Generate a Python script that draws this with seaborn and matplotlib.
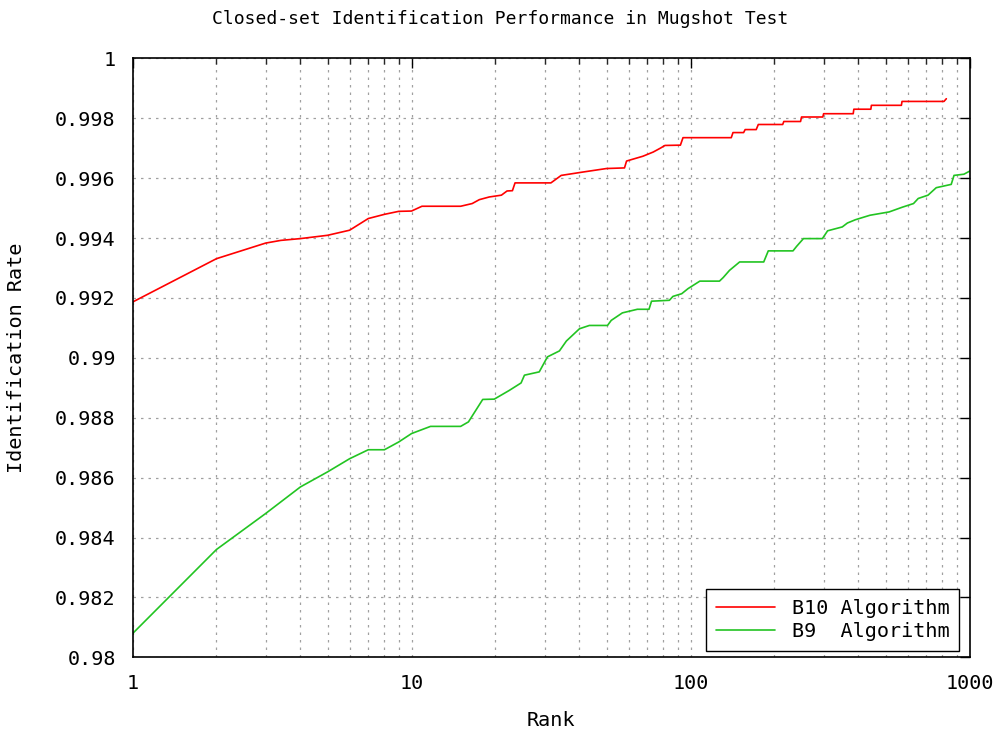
import numpy as np
import pandas as pd
import matplotlib
matplotlib.use("Agg")
import matplotlib.pyplot as plt
import seaborn as sns
from matplotlib.ticker import FixedLocator, FuncFormatter, NullFormatter

# ---- data ----
b10_rank = [1, 2, 3, 3.4, 4, 5, 6, 7, 8, 9, 10, 10.9, 15, 16.5, 17.5, 19, 21, 22, 23,
            23.5, 31.6, 34.4, 41, 50, 58, 59, 67.5, 73.5, 78, 81, 92, 94, 140, 142, 155,
            157, 172, 175, 214, 216, 248, 250, 298, 300, 383, 385, 443, 445, 570, 573,
            810, 826]
b10_rate = [0.99186, 0.99331, 0.99383, 0.99392, 0.99398, 0.99409, 0.99426, 0.99465,
            0.99479, 0.99489, 0.99490, 0.99506, 0.99506, 0.99515, 0.99528, 0.99537,
            0.99543, 0.99557, 0.99558, 0.99584, 0.99584, 0.99609, 0.99620, 0.99632,
            0.99634, 0.99657, 0.99673, 0.99687, 0.99700, 0.99709, 0.99710, 0.99735,
            0.99735, 0.99752, 0.99752, 0.99762, 0.99762, 0.99779, 0.99779, 0.99789,
            0.99789, 0.99804, 0.99804, 0.99815, 0.99815, 0.99830, 0.99830, 0.99843,
            0.99843, 0.99856, 0.99856, 0.99865]

b9_rank = [1, 2, 3, 4, 5, 6, 7, 8, 9, 10, 11.7, 15, 16, 18, 19.8, 22.4, 24.7, 25.4,
           28.7, 30.7, 33.9, 35.9, 40, 43.4, 50.4, 52, 57, 64.5, 71, 72.5, 84, 86.5, 93,
           98, 108, 127, 131, 138, 150, 183, 190, 233, 240, 254, 297, 310, 350, 365,
           390, 440, 515, 575, 630, 655, 710, 760, 860, 880, 955, 1000]
b9_rate = [0.98079, 0.98360, 0.98480, 0.98569, 0.98619, 0.98663, 0.98693, 0.98693,
           0.98719, 0.98747, 0.98771, 0.98771, 0.98786, 0.98861, 0.98862, 0.98891,
           0.98916, 0.98942, 0.98953, 0.99003, 0.99023, 0.99056, 0.99097, 0.99108,
           0.99108, 0.99125, 0.99150, 0.99162, 0.99162, 0.99189, 0.99192, 0.99205,
           0.99214, 0.99231, 0.99256, 0.99256, 0.99268, 0.99292, 0.99320, 0.99320,
           0.99357, 0.99357, 0.99372, 0.99398, 0.99398, 0.99424, 0.99437, 0.99450,
           0.99461, 0.99476, 0.99487, 0.99503, 0.99515, 0.99532, 0.99543, 0.99568,
           0.99579, 0.99609, 0.99613, 0.99623]

series_names = ["B10 Algorithm", "B9  Algorithm"]
x_ticks = [1, 10, 100, 1000]
y_ticks = [0.98, 0.982, 0.984, 0.986, 0.988, 0.99, 0.992, 0.994, 0.996, 0.998, 1.0]

df = pd.concat([
    pd.DataFrame({"Rank": b10_rank, "Rate": b10_rate, "Series": series_names[0]}),
    pd.DataFrame({"Rank": b9_rank, "Rate": b9_rate, "Series": series_names[1]}),
], ignore_index=True)

sns.set_theme(style="white")
plt.rcParams["font.family"] = ["DejaVu Sans Mono", "DejaVu Sans"]

fig = plt.figure(figsize=(10, 7.34), dpi=100)
ax = fig.add_axes([0.1325, 1 - 657.3 / 734, 0.837, 599 / 734])

sns.lineplot(data=df, x="Rank", y="Rate", hue="Series", sort=False, estimator=None,
             palette={series_names[0]: "#ff0000", series_names[1]: "#22c422"},
             linewidth=1.2, ax=ax)

ax.set_xscale("log")
ax.set_xlim(1, 1000)
ax.set_ylim(0.98, 1.0)

ax.xaxis.set_major_locator(FixedLocator(x_ticks))
ax.xaxis.set_major_formatter(FuncFormatter(lambda v, p: f"{v:g}"))
minors = [m * d for d in (1, 10, 100) for m in range(2, 10)]
ax.xaxis.set_minor_locator(FixedLocator(minors))
ax.xaxis.set_minor_formatter(NullFormatter())
ax.yaxis.set_major_locator(FixedLocator(y_ticks))
ax.yaxis.set_major_formatter(FuncFormatter(lambda v, p: f"{v:g}"))

ax.grid(True, which="major", axis="both", color="#a0a0a0", linestyle=(0, (2, 4)), linewidth=0.9)
ax.grid(True, which="minor", axis="x", color="#a0a0a0", linestyle=(0, (2, 4)), linewidth=0.9)

ax.tick_params(which="major", direction="in", length=7, width=1, top=True, right=True,
               labelsize=14.5, colors="black")
ax.tick_params(axis="y", which="major", pad=12)
ax.tick_params(axis="x", which="major", pad=12)
ax.tick_params(which="minor", direction="in", length=4, width=1, top=True, right=True)
ax.tick_params(axis="y", which="minor", left=False, right=False)

for s in ax.spines.values():
    s.set_color("black")
    s.set_linewidth(1.2)

ax.set_xlabel("Rank", fontsize=14.5, color="black")
ax.set_ylabel("Identification Rate", fontsize=14.5, color="black")
ax.xaxis.set_label_coords(0.5, (657.3 - 720) / 599)
ax.xaxis.label.set_va("center")
ax.yaxis.set_label_coords((17 - 132.5) / 837, 0.5)
ax.yaxis.label.set_va("center")

fig.text(0.5, 1 - 19 / 734, "Closed-set Identification Performance in Mugshot Test",
         ha="center", va="center", fontsize=13, color="black")

leg = ax.legend(loc="lower right", bbox_to_anchor=(0.988, 0.01), borderaxespad=0,
                fancybox=False, edgecolor="black", framealpha=1, fontsize=14.5,
                handlelength=2.9, handletextpad=0.85, borderpad=0.5, labelspacing=0.2,
                title=None)
leg.get_frame().set_linewidth(1.0)
for t in leg.get_texts():
    t.set_color("black")

fig.savefig("out.png", dpi=100, facecolor="white")
